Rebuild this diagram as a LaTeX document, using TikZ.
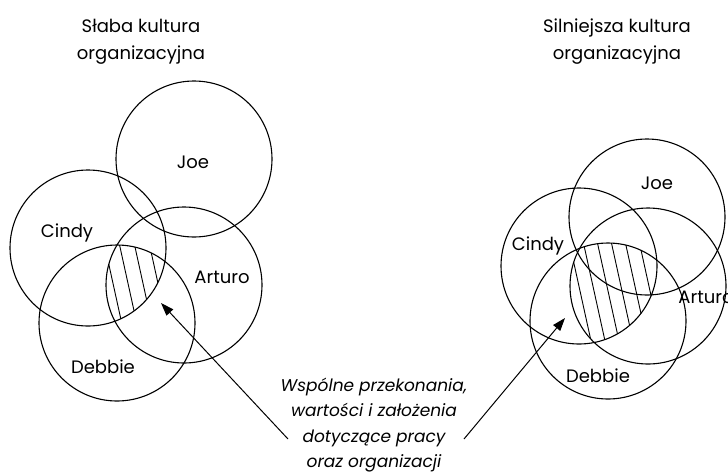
\documentclass[tikz,border=0pt]{standalone}
\usepackage{fontspec}
\setmainfont{Poppins}
\usetikzlibrary{arrows.meta}

\tikzset{
  ring/.style={line width=1.1pt},
  hatch/.style={line width=0.9pt},
  who/.style={font=\fontsize{18}{20}\selectfont, inner sep=0pt, anchor=base},
  heading/.style={font=\fontsize{18}{27}\selectfont, align=center, inner sep=0pt},
  pointer/.style={line width=1pt, -{Triangle[length=13pt,width=9pt]}},
}

\begin{document}
\begin{tikzpicture}[x=1pt,y=-1pt]
\useasboundingbox (0,0) rectangle (728,472);

% titles
\node[heading] (weak) at (141,42) {Słaba kultura\\organizacyjna};
\node[heading] (strong) at (617,42) {Silniejsza kultura\\organizacyjna};

% weak culture: small common part
\begin{scope}
  \clip (88,248) circle (78pt);
  \clip (184,285) circle (78pt);
  \clip (117,323) circle (78pt);
  \foreach \k in {-6,...,8}
    \draw[hatch] ({120+15*\k-22},147) -- ({120+15*\k+22},347);
\end{scope}
\draw[ring] (194,159) circle (78pt);
\draw[ring] (88,248) circle (78pt);
\draw[ring] (184,285) circle (78pt);
\draw[ring] (117,323) circle (78pt);

\node[who] (joeA) at (193,168) {Joe};
\node[who] (cindyA) at (67,237) {Cindy};
\node[who] (arturoA) at (222,283) {Arturo};
\node[who] (debbieA) at (103,373) {Debbie};

% stronger culture: larger common part
\begin{scope}
  \clip (579,266) circle (78pt);
  \clip (648,286) circle (78pt);
  \clip (608,321) circle (78pt);
  \foreach \k in {-6,...,10}
    \draw[hatch] ({585+14*\k-22},150) -- ({585+14*\k+22},350);
\end{scope}
\draw[ring] (647,217) circle (78pt);
\draw[ring] (579,266) circle (78pt);
\draw[ring] (648,286) circle (78pt);
\draw[ring] (608,321) circle (78pt);

\node[who] (joeB) at (657,189) {Joe};
\node[who] (cindyB) at (538,250) {Cindy};
\node[who] (arturoB) at (706,303) {Arturo};
\node[who] (debbieB) at (598,382) {Debbie};

% shared values
\node[font=\fontsize{17}{25.5}\selectfont\itshape, align=center, inner sep=0pt]
  (shared) at (374,425) {Wspólne przekonania,\\wartości i założenia\\dotyczące pracy\\oraz organizacji};

\coordinate (tailA) at (288,439);
\coordinate (tipA) at (161,303);
\coordinate (tailB) at (464,439);
\coordinate (tipB) at (565,318);
\draw[pointer] (tailA) -- (tipA);
\draw[pointer] (tailB) -- (tipB);
\end{tikzpicture}
\end{document}
